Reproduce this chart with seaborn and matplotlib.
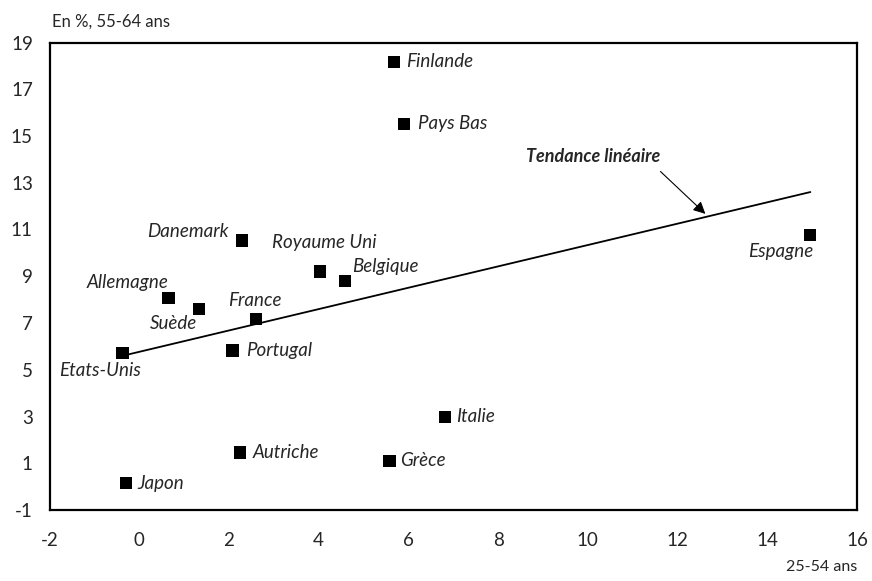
import pandas as pd
import numpy as np
import matplotlib.pyplot as plt
import seaborn as sns

# données : écart de taux de chômage (25-54 ans) vs 55-64 ans
pays = ['Finlande', 'Pays Bas', 'Espagne', 'Danemark', 'Royaume Uni', 'Belgique',
        'Allemagne', 'Suède', 'France', 'Etats-Unis', 'Portugal', 'Italie',
        'Autriche', 'Grèce', 'Japon']
x_2554 = [5.68, 5.91, 14.96, 2.29, 4.03, 4.59, 0.65, 1.33, 2.61, -0.37, 2.08, 6.81, 2.25, 5.58, -0.29]
y_5564 = [18.17, 15.52, 10.77, 10.53, 9.20, 8.80, 8.06, 7.59, 7.18, 5.71, 5.82, 2.98, 1.46, 1.11, 0.15]

df = pd.DataFrame({'pays': pays, 'x': x_2554, 'y': y_5564})

# position des étiquettes (décalage en pixels, alignement)
label_pos = {
    'Finlande': (12, 0, 'left'), 'Pays Bas': (14, 0, 'left'), 'Espagne': (3, -17, 'right'),
    'Danemark': (-13, 9, 'right'), 'Royaume Uni': (4, 29, 'center'), 'Belgique': (7, 14, 'left'),
    'Allemagne': (0, 16, 'right'), 'Suède': (-2, -14, 'right'), 'France': (-1, 18, 'center'),
    'Etats-Unis': (-23, -17, 'center'), 'Portugal': (14, 0, 'left'), 'Italie': (11, 0, 'left'),
    'Autriche': (12, 0, 'left'), 'Grèce': (11, 0, 'left'), 'Japon': (11, 0, 'left'),
}

sns.set_style('white')
plt.rcParams['font.family'] = ['Lato', 'DejaVu Sans']
plt.rcParams['axes.unicode_minus'] = False

fig = plt.figure(figsize=(8.72, 5.81), dpi=100)
ax = fig.add_axes([49.5 / 872, 1 - 510 / 581, (857 - 49.5) / 872, (510 - 42.5) / 581])

sns.regplot(data=df, x='x', y='y', scatter=False, ci=None, truncate=True,
            line_kws={'color': 'black', 'lw': 1.3}, ax=ax)
sns.scatterplot(data=df, x='x', y='y', marker='s', color='black', s=78,
                edgecolor='none', ax=ax, zorder=3)

for _, r in df.iterrows():
    dx, dy, ha = label_pos[r['pays']]
    ax.annotate(r['pays'], (r['x'], r['y']), xytext=(dx, dy), textcoords='offset pixels',
                ha=ha, va='center', fontsize=13.5, style='italic')

# flèche de la tendance
ax.text(10.12, 14.12, 'Tendance linéaire', ha='center', va='center',
        fontsize=13, fontweight='bold', style='italic')
ax.annotate('', xy=(12.62, 11.67), xytext=(11.62, 13.48),
            arrowprops=dict(arrowstyle='-|>', color='black', lw=0.8, shrinkA=0,
                            shrinkB=0, mutation_scale=18))

ax.set_xlim(-2, 16)
ax.set_ylim(-1, 19)
ax.set_xticks(np.arange(-2, 17, 2))
ax.set_yticks(np.arange(-1, 20, 2))
ax.tick_params(axis='both', length=0, labelsize=13.5)
ax.tick_params(axis='y', pad=12)
ax.tick_params(axis='x', pad=16)
ax.set_xlabel('')
ax.set_ylabel('')
for s in ax.spines.values():
    s.set_color('black')
    s.set_linewidth(1.6)

fig.text(52 / 872, 1 - 22 / 581, 'En %, 55-64 ans', ha='left', va='center', fontsize=12)
fig.text(857 / 872, 1 - 567 / 581, '25-54 ans', ha='right', va='center', fontsize=11.5)

fig.savefig('out.png', dpi=100)
